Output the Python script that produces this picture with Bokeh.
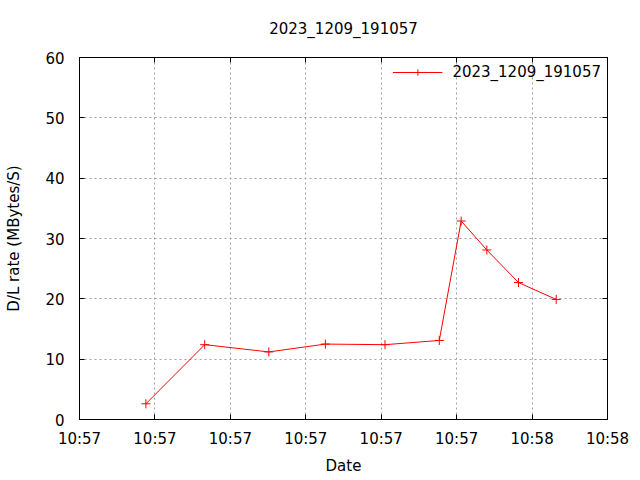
import pandas as pd
from bokeh.plotting import figure
from bokeh.models import (Range1d, FixedTicker, DatetimeTickFormatter, LinearAxis,
                          DatetimeAxis, Legend, LegendItem, ColumnDataSource,
                          CustomLabelingPolicy)
from bokeh.embed import file_html
from bokeh.resources import INLINE

# ---- data ----
title_text = "2023_1209_191057"
series_name = "2023_1209_191057"
times = ["2023-12-09 10:57:08.8", "2023-12-09 10:57:16.6", "2023-12-09 10:57:25.1",
         "2023-12-09 10:57:32.6", "2023-12-09 10:57:40.5", "2023-12-09 10:57:47.7",
         "2023-12-09 10:57:50.6", "2023-12-09 10:57:54.0", "2023-12-09 10:57:58.2",
         "2023-12-09 10:58:03.2"]
rates = [2.6, 12.4, 11.2, 12.5, 12.4, 13.1, 32.9, 28.1, 22.7, 19.9]
x_ticks = ["2023-12-09 10:57:00", "2023-12-09 10:57:10", "2023-12-09 10:57:20",
           "2023-12-09 10:57:30", "2023-12-09 10:57:40", "2023-12-09 10:57:50",
           "2023-12-09 10:58:00", "2023-12-09 10:58:10"]
y_ticks = [0, 10, 20, 30, 40, 50, 60]
x_label = "Date"
y_label = "D/L rate (MBytes/S)"

FONT = "DejaVu Sans"
FS = "15px"

def ms(s):
    return (pd.Timestamp(s) - pd.Timestamp("1970-01-01")).total_seconds() * 1000.0

tick_ms = [ms(t) for t in x_ticks]
src = ColumnDataSource(dict(t=pd.to_datetime(times), r=rates))

p = figure(frame_width=528, frame_height=362,
           min_border_left=79, min_border_right=33, min_border_top=57, min_border_bottom=61,
           x_axis_type="datetime", output_backend="svg", toolbar_location=None,
           x_range=Range1d(tick_ms[0], tick_ms[-1]), y_range=Range1d(0, 60),
           background_fill_color="white", border_fill_color="white")

p.title.text = title_text
p.title.align = "center"
p.title.text_font = FONT
p.title.text_font_size = FS
p.title.text_font_style = "normal"
p.title.text_color = "black"
p.title.standoff = 10

p.outline_line_color = "black"
p.outline_line_width = 1

fmt = DatetimeTickFormatter(microseconds="%H:%M", milliseconds="%H:%M", seconds="%H:%M",
                            minsec="%H:%M", minutes="%H:%M", hourmin="%H:%M", hours="%H:%M")

xa = p.xaxis[0]
xa.ticker = FixedTicker(ticks=tick_ms)
xa.formatter = fmt
ya = p.yaxis[0]
ya.ticker = FixedTicker(ticks=y_ticks)

for ax in (xa, ya):
    ax.major_tick_in = 5
    ax.major_tick_out = 0
    ax.minor_tick_line_color = None
    ax.major_label_text_font = FONT
    ax.major_label_text_font_size = FS
    ax.major_label_text_color = "black"
    ax.axis_label_text_font = FONT
    ax.axis_label_text_font_size = FS
    ax.axis_label_text_font_style = "normal"
    ax.axis_label_text_color = "black"
    ax.axis_line_color = "black"
    ax.major_tick_line_color = "black"

xa.axis_label = x_label
xa.major_label_standoff = 10
xa.axis_label_standoff = 6
ya.axis_label = y_label
ya.major_label_standoff = 15
ya.axis_label_standoff = 19

# mirrored ticks (no labels)
hide = CustomLabelingPolicy(code="for (const i of Array.from(indices)) { indices.unset(i) }; return indices")
ra = LinearAxis(ticker=FixedTicker(ticks=y_ticks), major_label_policy=hide,
                major_label_standoff=0, major_tick_in=5, major_tick_out=0,
                minor_tick_line_color=None, axis_line_color="black")
ta = DatetimeAxis(ticker=FixedTicker(ticks=tick_ms), formatter=fmt,
                  major_label_policy=hide, major_label_standoff=0,
                  major_tick_in=5, major_tick_out=0, minor_tick_line_color=None,
                  axis_line_color="black")
p.add_layout(ra, "right")
p.add_layout(ta, "above")

p.xgrid.ticker = FixedTicker(ticks=tick_ms)
p.ygrid.ticker = FixedTicker(ticks=y_ticks)
for g in (p.xgrid[0], p.ygrid[0]):
    g.grid_line_color = "#a0a0a0"
    g.grid_line_dash = "2 3"
    g.grid_line_width = 1

ln = p.line("t", "r", source=src, line_color="red", line_width=1)
mk = p.scatter("t", "r", source=src, marker="cross", size=9, line_color="red", line_width=1)

leg = Legend(items=[LegendItem(label=series_name, renderers=[ln, mk])],
             location="top_right", border_line_color=None, background_fill_alpha=0,
             label_text_font=FONT, label_text_font_size=FS, label_text_color="black",
             glyph_width=50, glyph_height=16, label_standoff=10, padding=4, margin=6)
p.add_layout(leg)

open("out.html", "w").write(file_html(p, INLINE))
